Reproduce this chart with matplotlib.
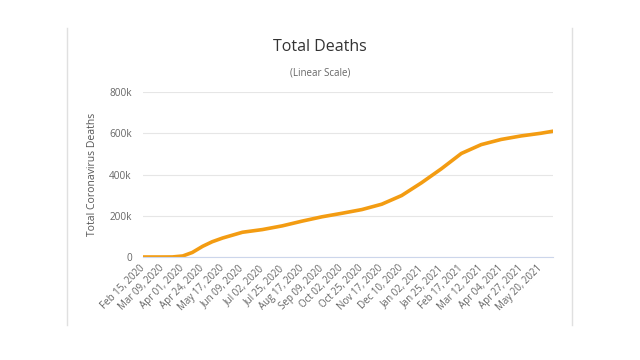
import numpy as np
import pandas as pd
import matplotlib.pyplot as plt
import matplotlib.dates as mdates
from matplotlib.lines import Line2D

plt.rcParams['font.family'] = ['Open Sans', 'DejaVu Sans']

# data (US cumulative deaths)
dates = pd.to_datetime([
    "2020-02-15", "2020-03-09", "2020-03-20", "2020-04-01", "2020-04-12",
    "2020-04-24", "2020-05-05", "2020-05-17", "2020-06-09", "2020-07-02",
    "2020-07-25", "2020-08-17", "2020-09-09", "2020-10-02", "2020-10-25",
    "2020-11-17", "2020-12-10", "2021-01-02", "2021-01-25", "2021-02-17",
    "2021-03-12", "2021-04-04", "2021-04-27", "2021-05-20", "2021-06-03",
])
deaths = [
    0, 22, 250, 5000, 22000,
    52000, 74000, 92000, 120000, 133000,
    151000, 174000, 195000, 212000, 230000,
    256000, 298000, 360000, 428000, 502000,
    545000, 570000, 587000, 600000, 610000,
]

tick_dates = pd.date_range("2020-02-15", "2021-05-20", freq="23D")
tick_labels = [d.strftime("%b %d, %Y") for d in tick_dates]
y_ticks = [0, 200000, 400000, 600000, 800000]
y_labels = ["0", "200k", "400k", "600k", "800k"]

fig = plt.figure(figsize=(6.4, 3.6), dpi=100)
ax = fig.add_axes([143 / 640, 0.2861, 410 / 640, 0.4583])

ax.plot(dates, deaths, color="#f39c12", lw=2.6, solid_capstyle="round",
        solid_joinstyle="round")

ax.set_xlim(pd.Timestamp("2020-02-15"), pd.Timestamp("2021-06-03"))
ax.set_ylim(0, 800000)
ax.set_yticks(y_ticks)
ax.set_yticklabels(y_labels, fontsize=7.2, color="#666666")
ax.set_xticks(tick_dates)
ax.set_xticklabels(tick_labels, fontsize=7, color="#666666", rotation=45,
                   ha="right", va="center", rotation_mode="anchor")
ax.tick_params(axis="y", length=0, pad=8)
ax.tick_params(axis="x", length=0, pad=7)

ax.grid(axis="y", color="#e6e6e6", lw=0.8)
ax.set_axisbelow(True)
for s in ["top", "right", "left"]:
    ax.spines[s].set_visible(False)
ax.spines["bottom"].set_color("#ccd6eb")
ax.spines["bottom"].set_linewidth(0.8)

ax.set_ylabel("Total Coronavirus Deaths", fontsize=7.5, color="#555555",
              labelpad=8)

fig.text(0.5, 1 - 47 / 360, "Total Deaths", ha="center", va="center",
         fontsize=11.5, color="#333333")
fig.text(0.5, 1 - 73 / 360, "(Linear Scale)", ha="center", va="center",
         fontsize=7, color="#666666")

# card borders
for xp in [67 / 640, 572 / 640]:
    fig.add_artist(Line2D([xp, xp], [1 - 325 / 360, 1 - 28 / 360],
                          color="#e0e0e0", lw=1))

fig.savefig("out.png", dpi=100)
